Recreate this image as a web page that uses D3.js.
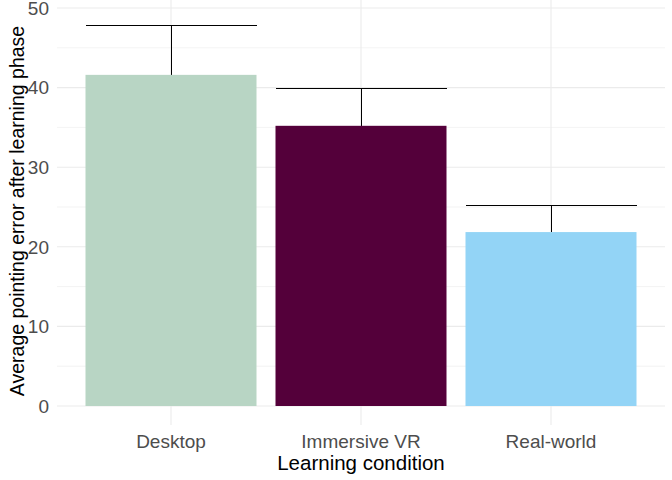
<!DOCTYPE html>
<html><head><meta charset="utf-8">
<script src="https://cdn.jsdelivr.net/npm/d3@7"></script>
<style>body{margin:0;background:#fff}svg{display:block}text{font-family:"Liberation Sans",Arial,sans-serif}</style>
</head><body>
<svg id="c" width="672" height="480"></svg>
<script>
const categories = ["Desktop", "Immersive VR", "Real-world"];
const means = [41.6, 35.2, 21.85];
const upper = [47.75, 39.85, 25.15];
const colors = ["#b8d5c4", "#54003a", "#93d4f6"];
const yTicks = [0, 10, 20, 30, 40, 50];
const yMinor = [5, 15, 25, 35, 45];

const svg = d3.select("#c");
const L = 57, R = 665, T = 8, B = 406;
const x = d3.scaleBand().domain(categories).range([L, R]).paddingInner(0.1).paddingOuter(0.15);
const y = d3.scaleLinear().domain([0, 50]).range([B, T]);
const cx = d => x(d) + x.bandwidth() / 2;
const g = svg.append("g");
// grid
g.selectAll(".mi").data(yMinor).join("line").attr("x1", L).attr("x2", R)
  .attr("y1", d => y(d)).attr("y2", d => y(d)).attr("stroke", "#ebebeb").attr("stroke-width", 0.6);
g.selectAll(".ma").data(yTicks).join("line").attr("x1", L).attr("x2", R)
  .attr("y1", d => y(d)).attr("y2", d => y(d)).attr("stroke", "#ebebeb").attr("stroke-width", 1.1);
g.selectAll(".vx").data(categories).join("line").attr("y1", 0).attr("y2", 425)
  .attr("x1", cx).attr("x2", cx)
  .attr("stroke", "#ebebeb").attr("stroke-width", 1.1);
// error bars
const eb = g.selectAll(".eb").data(categories).join("g").attr("shape-rendering", "crispEdges");
eb.append("line").attr("x1", cx).attr("x2", cx)
  .attr("y1", (d, i) => y(means[i])).attr("y2", (d, i) => y(upper[i])).attr("stroke", "#000").attr("stroke-width", 1);
eb.append("line").attr("x1", d => x(d)).attr("x2", d => x(d) + x.bandwidth())
  .attr("y1", (d, i) => y(upper[i])).attr("y2", (d, i) => y(upper[i])).attr("stroke", "#000").attr("stroke-width", 1);
// bars
g.selectAll(".bar").data(categories).join("rect")
  .attr("x", d => x(d)).attr("width", x.bandwidth())
  .attr("y", (d, i) => y(means[i])).attr("height", (d, i) => y(0) - y(means[i]))
  .attr("fill", (d, i) => colors[i]);
// y axis labels
g.selectAll(".yt").data(yTicks).join("text").attr("x", 49).attr("y", d => y(d)).attr("dy", "0.36em")
  .attr("text-anchor", "end").attr("fill", "#4d4d4d").attr("font-size", 19).text(d => d);
// x labels
g.selectAll(".xt").data(categories).join("text").attr("x", cx).attr("y", 448)
  .attr("text-anchor", "middle").attr("fill", "#4d4d4d").attr("font-size", 19).text(d => d);
svg.append("text").attr("x", (L + R) / 2).attr("y", 470).attr("text-anchor", "middle")
  .attr("font-size", 20.5).attr("fill", "#000").text("Learning condition");
svg.append("text").attr("transform", `translate(24,211) rotate(-90)`).attr("text-anchor", "middle")
  .attr("font-size", 19.5).attr("fill", "#000").text("Average pointing error after learning phase");
</script>
</body></html>
